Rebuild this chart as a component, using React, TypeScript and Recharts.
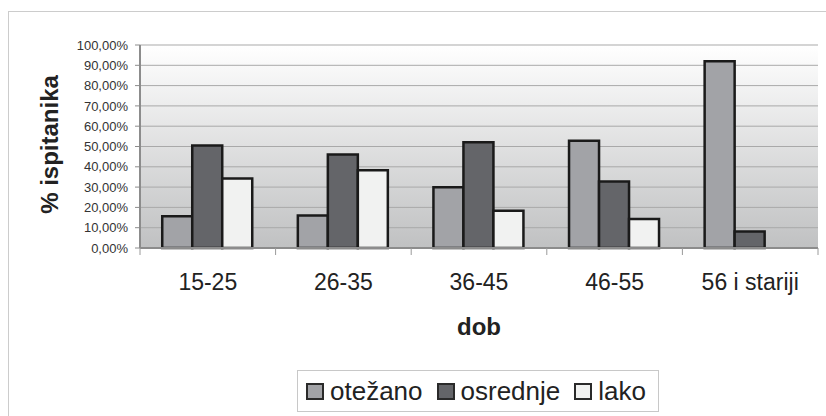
import React from 'react';
import { BarChart, Bar, XAxis, YAxis, CartesianGrid } from 'recharts';

const categories = ['15-25', '26-35', '36-45', '46-55', '56 i stariji'];
const otezano = [0.156, 0.16, 0.299, 0.528, 0.92];
const osrednje = [0.505, 0.461, 0.521, 0.327, 0.081];
const lako = [0.342, 0.383, 0.184, 0.143, 0];
const yTicks = [0, 0.1, 0.2, 0.3, 0.4, 0.5, 0.6, 0.7, 0.8, 0.9, 1];

const seriesNames = ['otežano', 'osrednje', 'lako'];
const seriesKeys = ['otezano', 'osrednje', 'lako'];
const seriesColors = ['#a2a3a7', '#646569', '#f1f2f1'];

const data = categories.map((cat, i) => ({
  cat,
  otezano: otezano[i],
  osrednje: osrednje[i],
  lako: lako[i],
}));

const FONT = '"Liberation Sans", Arial, sans-serif';

const fmtPct = (v: number) => (v * 100).toFixed(2).replace('.', ',') + '%';

const XTick = (props: any) => {
  const { x, y, payload, index, width } = props;
  const half = width / (2 * categories.length);
  const axisY = y - 8;
  return (
    <g>
      <line x1={x - half} y1={axisY} x2={x - half} y2={axisY + 7} stroke="#9a9a9a" strokeWidth={1} />
      {index === categories.length - 1 && (
        <line x1={x + half} y1={axisY} x2={x + half} y2={axisY + 7} stroke="#9a9a9a" strokeWidth={1} />
      )}
      <text x={x} y={axisY + 42} textAnchor="middle" fontSize={23} fill="#222" fontFamily={FONT}>
        {payload.value}
      </text>
    </g>
  );
};

const YLabel = (props: any) => {
  const vb = props.viewBox || { x: 0, y: 45, width: 140, height: 203 };
  const cx = vb.x + 58;
  const cy = vb.y + vb.height / 2 - 2;
  return (
    <text
      x={cx}
      y={cy}
      transform={`rotate(-90, ${cx}, ${cy})`}
      textAnchor="middle"
      fontSize={24}
      fontWeight="bold"
      fill="#222"
      fontFamily={FONT}
    >
      % ispitanika
    </text>
  );
};

const Legend = () => (
  <div
    style={{
      position: 'absolute',
      left: 297,
      top: 370,
      width: 362,
      height: 42,
      boxSizing: 'border-box',
      border: '1px solid #c8c8c8',
      display: 'flex',
      alignItems: 'center',
      paddingLeft: 8,
      fontFamily: FONT,
      fontSize: 26,
      color: '#222',
      background: '#fff',
    }}
  >
    {seriesNames.map((name, i) => (
      <div key={name} style={{ display: 'flex', alignItems: 'center', marginRight: 14 }}>
        <div
          style={{
            width: 18,
            height: 17,
            boxSizing: 'border-box',
            border: '2px solid #2a2a2a',
            background: seriesColors[i],
            marginRight: 6,
          }}
        />
        <span style={{ lineHeight: '26px' }}>{name}</span>
      </div>
    ))}
  </div>
);

export default function App() {
  return (
    <div
      style={{
        position: 'absolute',
        left: 0,
        top: 0,
        width: 826,
        height: 416,
        background: '#fff',
        overflow: 'hidden',
        fontFamily: FONT,
      }}
    >
      <div
        style={{
          position: 'absolute',
          left: 8,
          top: 11,
          width: 840,
          height: 430,
          border: '1px solid #cccccc',
        }}
      />
      <div style={{ position: 'absolute', left: 0, top: 0 }}>
        <BarChart
          width={826}
          height={416}
          data={data}
          margin={{ top: 45, right: 8, left: 0, bottom: 0 }}
          barGap={0}
          barCategoryGap="16.4%"
        >
          <defs>
            <linearGradient id="plotBg" x1="0" y1="0" x2="0" y2="1">
              <stop offset="0%" stopColor="#ffffff" />
              <stop offset="100%" stopColor="#c0c1c2" />
            </linearGradient>
          </defs>
          <CartesianGrid vertical={false} stroke="#a9a9a9" fill="url(#plotBg)" />
          <XAxis
            dataKey="cat"
            height={168}
            interval={0}
            axisLine={{ stroke: '#8c8c8c', strokeWidth: 2 }}
            tickLine={false}
            tick={<XTick />}
            label={{
              value: 'dob',
              position: 'insideTop',
              offset: 70,
              fontSize: 24,
              fontWeight: 'bold',
              fill: '#222',
              fontFamily: FONT,
            }}
          />
          <XAxis
            xAxisId="top"
            dataKey="cat"
            orientation="top"
            height={0}
            tick={false}
            tickLine={false}
            axisLine={{ stroke: '#8c8c8c', strokeWidth: 2 }}
          />
          <YAxis
            width={140}
            domain={[0, 1]}
            ticks={yTicks}
            interval={0}
            tickFormatter={fmtPct}
            tick={{ fontSize: 13, fill: '#333', fontFamily: FONT }}
            tickSize={5}
            tickMargin={7}
            tickLine={{ stroke: '#8c8c8c' }}
            axisLine={{ stroke: '#8c8c8c', strokeWidth: 2 }}
            label={<YLabel />}
          />
          <YAxis
            yAxisId="right"
            orientation="right"
            width={0}
            domain={[0, 1]}
            tick={false}
            tickLine={false}
            axisLine={{ stroke: '#8c8c8c', strokeWidth: 2 }}
          />
          {seriesKeys.map((k, i) => (
            <Bar
              key={k}
              dataKey={k}
              name={seriesNames[i]}
              fill={seriesColors[i]}
              stroke="#1a1a1a"
              strokeWidth={2.5}
              isAnimationActive={false}
            />
          ))}
        </BarChart>
      </div>
      <Legend />
    </div>
  );
}
